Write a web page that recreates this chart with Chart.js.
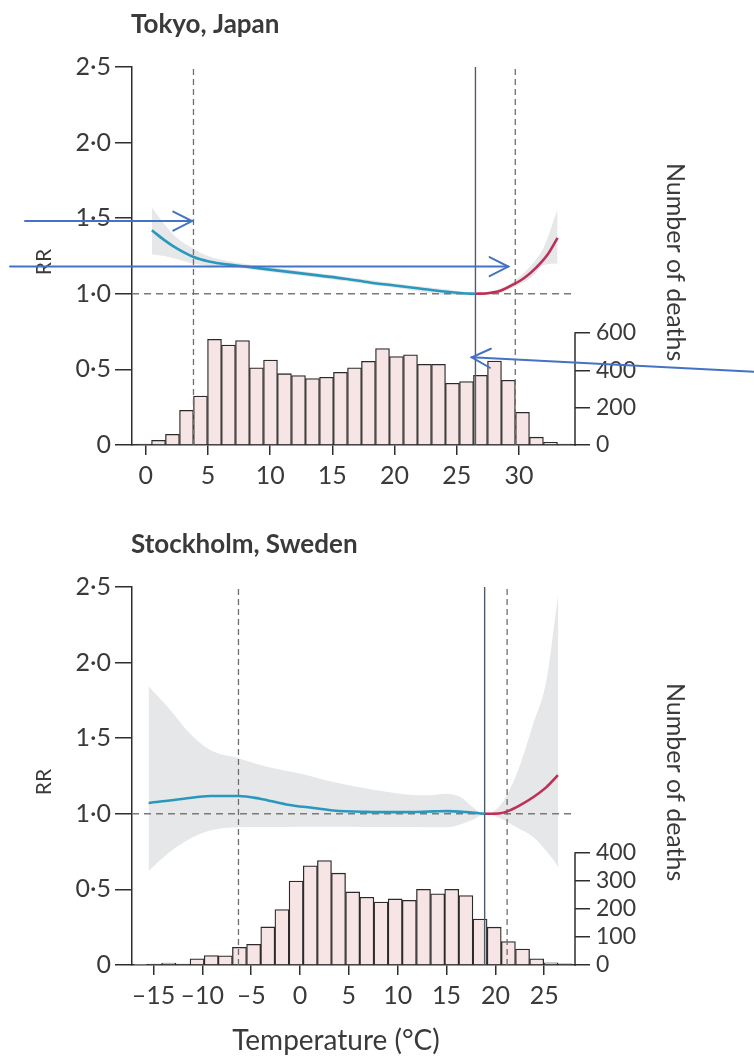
<!DOCTYPE html>
<html><head><meta charset="utf-8">
<script src="https://cdn.jsdelivr.net/npm/chart.js@4.4.1/dist/chart.umd.min.js"></script>
<style>
html,body{margin:0;padding:0;background:#fff;}
body{width:754px;height:1057px;position:relative;overflow:hidden;}
canvas{position:absolute;left:0;}
#c1{top:0;} #c2{top:520px;}
</style></head><body>
<canvas id="c1" width="754" height="520"></canvas>
<canvas id="c2" width="754" height="537"></canvas>
<script>
// ---------- shared ----------
const rrTicks = [0, 0.5, 1, 1.5, 2, 2.5];

// ---------- Tokyo, Japan ----------
const tokyoTitle = 'Tokyo, Japan';
const tokyoXTicks = [0, 5, 10, 15, 20, 25, 30];
const tokyoCountTicks = [0, 200, 400, 600];
const tokyoBinCenters = [-0.10, 1.03, 2.15, 3.28, 4.40, 5.53, 6.65, 7.78, 8.90, 10.03, 11.15, 12.28, 13.40, 14.53, 15.65, 16.78, 17.90, 19.03, 20.15, 21.28, 22.40, 23.53, 24.65, 25.78, 26.90, 28.03, 29.15, 30.28, 31.40, 32.53, 33.65];
const tokyoDeaths = [5, 25, 57, 186, 262, 566, 535, 559, 414, 455, 382, 372, 356, 363, 389, 414, 448, 517, 474, 483, 432, 432, 331, 340, 373, 450, 347, 175, 42, 14, 5];
const tokyoColdTemp = [0.5, 1.5, 2.5, 3.8, 5, 6, 7, 8, 10, 12, 14, 16, 18, 20, 22, 24, 25.5, 26.5];
const tokyoColdRR   = [1.42, 1.355, 1.30, 1.245, 1.215, 1.20, 1.19, 1.18, 1.16, 1.14, 1.12, 1.10, 1.075, 1.055, 1.035, 1.015, 1.004, 1.0];
const tokyoHotTemp = [26.5, 27.5, 28.5, 29.6, 30.5, 31.4, 32.3, 33.1];
const tokyoHotRR   = [1.0, 1.004, 1.02, 1.064, 1.11, 1.175, 1.26, 1.37];
const tokyoCITemp  = [0.5, 1.5, 2.5, 3.8, 5, 7, 10, 15, 20, 25, 26.5, 28, 29.6, 31, 32, 33.1];
const tokyoCIUpper = [1.57, 1.46, 1.37, 1.30, 1.25, 1.21, 1.175, 1.125, 1.07, 1.02, 1.0, 1.02, 1.085, 1.19, 1.31, 1.56];
const tokyoCILower = [1.26, 1.25, 1.23, 1.20, 1.185, 1.175, 1.145, 1.095, 1.04, 0.99, 1.0, 1.0, 1.045, 1.11, 1.19, 1.20];
const tokyoMMT = 26.5, tokyoLowPct = 3.84, tokyoHighPct = 29.7;
const tokyoXRange = [-1.10, 34.50];
const tokyoCountMax = 2025;
// annotation arrows (temperature, RR)
const tokyoArrows = [
  {from: [-9.7, 1.481], to: [3.72, 1.481]},
  {from: [-10.9, 1.18], to: [29.14, 1.18]},
  {from: [48.88, 0.485], to: [26.2, 0.58]}
];

// ---------- Stockholm, Sweden ----------
const stockTitle = 'Stockholm, Sweden';
const stockXTicks = [-15, -10, -5, 0, 5, 10, 15, 20, 25];
const stockCountTicks = [0, 100, 200, 300, 400];
const stockBinCenters = [-16.34, -14.89, -13.44, -11.99, -10.54, -9.09, -7.65, -6.20, -4.75, -3.30, -1.85, -0.40, 1.05, 2.50, 3.94, 5.39, 6.84, 8.29, 9.74, 11.19, 12.64, 14.09, 15.53, 16.98, 18.43, 19.88, 21.33, 22.78, 24.23, 25.68, 27.13];
const stockDeaths = [2, 3, 7, 3, 22, 34, 33, 63, 74, 136, 198, 300, 354, 373, 328, 261, 242, 225, 236, 231, 270, 254, 270, 248, 164, 135, 84, 57, 22, 8, 4];
const stockColdTemp = [-15.5, -11.9, -9.2, -6.3, -4.1, -1.4, 1.4, 3.4, 6.8, 10.2, 13.7, 15.0, 17.1, 18.9];
const stockColdRR   = [1.071, 1.10, 1.118, 1.118, 1.10, 1.062, 1.038, 1.022, 1.013, 1.011, 1.016, 1.018, 1.011, 1.0];
const stockHotTemp = [18.9, 20.5, 21.2, 22.5, 23.9, 25.25, 26.4];
const stockHotRR   = [1.0, 1.004, 1.016, 1.056, 1.111, 1.178, 1.256];
const stockCITemp  = [-15.5, -13.6, -11.3, -9.2, -6.3, -3.4, 0, 3.4, 6.8, 10.2, 13.0, 15.0, 16.4, 17.7, 18.9, 20.5, 22.2, 23.9, 25.25, 26.1, 26.44];
const stockCIUpper = [1.844, 1.711, 1.533, 1.422, 1.367, 1.311, 1.267, 1.211, 1.167, 1.133, 1.122, 1.133, 1.111, 1.044, 1.0, 1.056, 1.267, 1.60, 1.89, 2.29, 2.455];
const stockCILower = [0.622, 0.733, 0.833, 0.889, 0.911, 0.913, 0.915, 0.915, 0.913, 0.912, 0.911, 0.911, 0.93, 0.96, 1.0, 0.97, 0.91, 0.845, 0.75, 0.68, 0.645];
const stockMMT = 18.9, stockLowPct = -6.3, stockHighPct = 21.2;
const stockXRange = [-17.2, 28.15];
const stockCountMax = 1350;
const stockArrows = [];

// ---------- styling ----------
const AXIS = '#2e2e2e', TEXT = '#3a3a3a', FONT = 'Lato';
const BAND = '#e6e7e9', BLUE = '#2a98bd', RED = '#bf2f55', BARFILL = '#f7e4e4';

function fmtRR(v){ return v === 0 ? '0' : v.toFixed(1).replace('.', '\u00B7'); }
function fmtT(v){ return v < 0 ? '\u2013' + Math.abs(v) : String(v); }
function pts(xs, ys){ return xs.map((x, i) => ({x: x, y: ys[i]})); }

const textPlugin = {
  id: 'cityText',
  afterDraw(chart, args, o) {
    const ctx = chart.ctx, a = chart.chartArea;
    ctx.save();
    ctx.fillStyle = TEXT;
    ctx.textAlign = 'left';
    ctx.textBaseline = 'alphabetic';
    ctx.font = 'bold 26px ' + FONT;
    ctx.fillText(o.title, a.left - 1, a.top - 34);

    ctx.font = '21px ' + FONT;
    ctx.save();
    ctx.translate(a.left - 88, (a.top + a.bottom) / 2 + 6);
    ctx.rotate(-Math.PI / 2);
    ctx.textAlign = 'center'; ctx.textBaseline = 'middle';
    ctx.fillText('RR', 0, 0);
    ctx.restore();

    ctx.font = '25px ' + FONT;
    ctx.save();
    ctx.translate(a.right + 100, a.top + 96);
    ctx.rotate(Math.PI / 2);
    ctx.textAlign = 'left'; ctx.textBaseline = 'middle';
    ctx.fillText('Number of deaths', 0, 0);
    ctx.restore();

    if (o.xTitle) {
      ctx.font = '28px ' + FONT;
      ctx.textAlign = 'center';
      ctx.fillText(o.xTitle, a.left + 204, a.bottom + 85);
    }

    // partial right axis line (0 .. top tick)
    const y2 = chart.scales.y2;
    const top = o.countTicks[o.countTicks.length - 1];
    ctx.strokeStyle = AXIS; ctx.lineWidth = 1.5;
    ctx.beginPath();
    ctx.moveTo(y2.left, y2.getPixelForValue(0) + 0.75);
    ctx.lineTo(y2.left, y2.getPixelForValue(top) - 0.75);
    ctx.stroke();

    // annotation arrows
    const xs = chart.scales.x, ys = chart.scales.y;
    ctx.strokeStyle = '#4472c4'; ctx.lineWidth = 2; ctx.lineCap = 'round';
    (o.arrows || []).forEach(ar => {
      const x0 = xs.getPixelForValue(ar.from[0]), y0 = ys.getPixelForValue(ar.from[1]);
      const x1 = xs.getPixelForValue(ar.to[0]), y1 = ys.getPixelForValue(ar.to[1]);
      const ang = Math.atan2(y1 - y0, x1 - x0), L = 21, sp = 0.47;
      ctx.beginPath(); ctx.moveTo(x0, y0); ctx.lineTo(x1, y1); ctx.stroke();
      ctx.beginPath();
      ctx.moveTo(x1 - L * Math.cos(ang - sp), y1 - L * Math.sin(ang - sp));
      ctx.lineTo(x1, y1);
      ctx.lineTo(x1 - L * Math.cos(ang + sp), y1 - L * Math.sin(ang + sp));
      ctx.stroke();
    });
    ctx.restore();
  }
};

function build(id, d) {
  const vline = (x) => [{x: x, y: 0}, {x: x, y: 2.5}];
  return new Chart(document.getElementById(id), {
    type: 'line',
    data: { datasets: [
      { type: 'bar', yAxisID: 'y2', data: pts(d.centers, d.deaths), backgroundColor: BARFILL,
        borderColor: '#2b2b2b', borderWidth: 1.3, barPercentage: 1, categoryPercentage: 1, order: 10 },
      { data: pts(d.ciT, d.ciU), borderColor: 'rgba(0,0,0,0)', borderWidth: 1, pointRadius: 0,
        backgroundColor: BAND, fill: '+1', cubicInterpolationMode: 'monotone', order: 8 },
      { data: pts(d.ciT, d.ciL), borderColor: 'rgba(0,0,0,0)', borderWidth: 1, pointRadius: 0,
        fill: false, cubicInterpolationMode: 'monotone', order: 8 },
      { data: [{x: d.xr[0], y: 1}, {x: d.xr[1], y: 1}], borderColor: '#7a7a7a', borderWidth: 1.4,
        borderDash: [7, 5], pointRadius: 0, fill: false, order: 6 },
      { data: vline(d.lo), borderColor: '#6e6e6e', borderWidth: 1.3, borderDash: [6, 4], pointRadius: 0, fill: false, order: 5 },
      { data: vline(d.hi), borderColor: '#6e6e6e', borderWidth: 1.3, borderDash: [6, 4], pointRadius: 0, fill: false, order: 5 },
      { data: vline(d.mmt), borderColor: '#4f5d69', borderWidth: 1.4, pointRadius: 0, fill: false, order: 4 },
      { data: pts(d.coldT, d.coldRR), borderColor: BLUE, borderWidth: 2.6, pointRadius: 0, fill: false,
        cubicInterpolationMode: 'monotone', order: 2 },
      { data: pts(d.hotT, d.hotRR), borderColor: RED, borderWidth: 2.6, pointRadius: 0, fill: false,
        cubicInterpolationMode: 'monotone', order: 2 }
    ]},
    options: {
      responsive: false, animation: false, devicePixelRatio: 1, events: [],
      layout: { padding: { top: 67, left: 0, right: 0, bottom: 0 } },
      plugins: { legend: { display: false }, tooltip: { enabled: false }, title: { display: false },
        cityText: { title: d.title, xTitle: d.xTitle, countTicks: d.countTicks, arrows: d.arrows } },
      scales: {
        x: { type: 'linear', min: d.xr[0], max: d.xr[1], offset: false,
          afterBuildTicks: s => { s.ticks = d.xTicks.map(v => ({value: v})); },
          afterFit: s => { s.height = d.xH; },
          grid: { offset: false, drawOnChartArea: false, drawTicks: true, tickLength: 10, color: AXIS, lineWidth: 1.5 },
          border: { display: true, color: AXIS, width: 1.5 },
          ticks: { autoSkip: false, maxRotation: 0, padding: 6, color: TEXT, font: { family: FONT, size: 25 },
            callback: v => fmtT(v) } },
        y: { position: 'left', min: 0, max: 2.5,
          afterBuildTicks: s => { s.ticks = rrTicks.map(v => ({value: v})); },
          afterFit: s => { s.width = 132; },
          grid: { drawOnChartArea: false, drawTicks: true, tickLength: 17, color: AXIS, lineWidth: 1.5 },
          border: { display: true, color: AXIS, width: 1.5 },
          ticks: { padding: 4, color: TEXT, font: { family: FONT, size: 25 }, callback: v => fmtRR(v) } },
        y2: { position: 'right', min: 0, max: d.cMax,
          afterBuildTicks: s => { s.ticks = d.countTicks.map(v => ({value: v})); },
          afterFit: s => { s.width = 179; },
          grid: { drawOnChartArea: false, drawTicks: true, tickLength: 15, color: AXIS, lineWidth: 1.5 },
          border: { display: false },
          ticks: { padding: 6, color: TEXT, font: { family: FONT, size: 23 }, callback: v => String(v) } }
      }
    },
    plugins: [textPlugin]
  });
}

build('c1', { title: tokyoTitle, xTitle: null, xTicks: tokyoXTicks, countTicks: tokyoCountTicks,
  centers: tokyoBinCenters, deaths: tokyoDeaths, coldT: tokyoColdTemp, coldRR: tokyoColdRR,
  hotT: tokyoHotTemp, hotRR: tokyoHotRR, ciT: tokyoCITemp, ciU: tokyoCIUpper, ciL: tokyoCILower,
  mmt: tokyoMMT, lo: tokyoLowPct, hi: tokyoHighPct, xr: tokyoXRange, cMax: tokyoCountMax,
  arrows: tokyoArrows, xH: 75 });

build('c2', { title: stockTitle, xTitle: 'Temperature (\u00B0C)', xTicks: stockXTicks, countTicks: stockCountTicks,
  centers: stockBinCenters, deaths: stockDeaths, coldT: stockColdTemp, coldRR: stockColdRR,
  hotT: stockHotTemp, hotRR: stockHotRR, ciT: stockCITemp, ciU: stockCIUpper, ciL: stockCILower,
  mmt: stockMMT, lo: stockLowPct, hi: stockHighPct, xr: stockXRange, cMax: stockCountMax,
  arrows: stockArrows, xH: 92 });
</script>
</body></html>
